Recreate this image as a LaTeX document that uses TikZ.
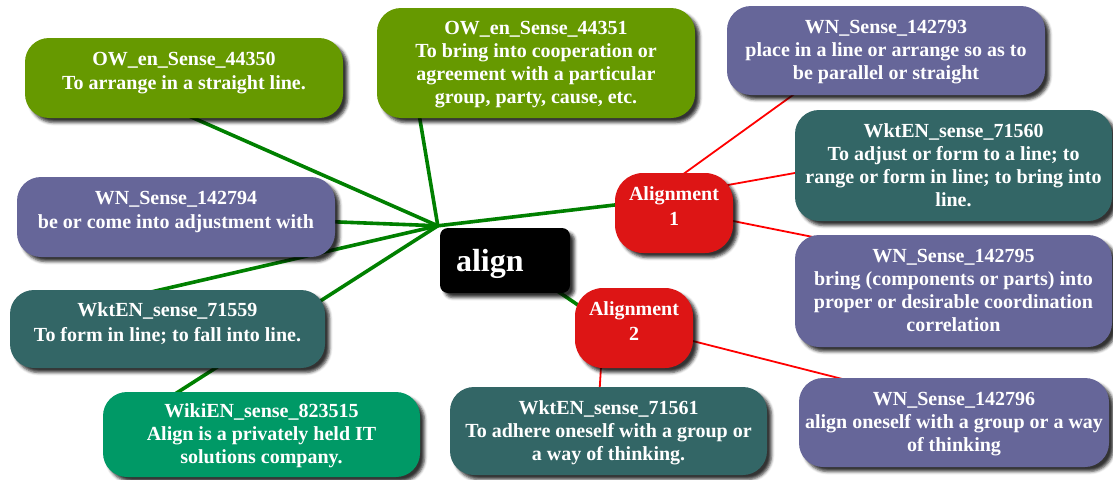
\documentclass[tikz,border=0pt]{standalone}
\usepackage{fontspec}
\setmainfont{Liberation Serif}
\usetikzlibrary{calc,shadows.blur}

\definecolor{owgreen}{HTML}{669900}
\definecolor{wnpurple}{HTML}{666699}
\definecolor{wktteal}{HTML}{336666}
\definecolor{wikigreen}{HTML}{009966}
\definecolor{alred}{HTML}{DD1515}
\definecolor{linegreen}{HTML}{008000}
\definecolor{linered}{HTML}{FF0000}

\pgfdeclarelayer{background}
\pgfsetlayers{background,main}

\tikzset{
  shadowed/.style={blur shadow={shadow xshift=4.5pt, shadow yshift=-4.5pt,
      shadow blur radius=3pt, shadow opacity=80}},
  sensebox/.style={shadowed, rounded corners=24pt, text=white, align=center,
      inner sep=0pt, text depth=1pt,
      font=\bfseries\fontsize{20}{23}\selectfont},
  % two-line boxes set their text a little higher
  twoline/.style={text depth=14.3pt, font=\bfseries\fontsize{20}{24.5}\selectfont},
  owbox/.style={sensebox, fill=owgreen},
  wnbox/.style={sensebox, fill=wnpurple},
  wktbox/.style={sensebox, fill=wktteal},
  wikibox/.style={sensebox, fill=wikigreen},
  alignbox/.style={sensebox, twoline, fill=alred, rounded corners=28pt,
      minimum width=118pt, minimum height=80pt},
  rootbox/.style={shadowed, fill=black, rounded corners=8pt, text=white,
      inner xsep=16pt, inner ysep=0pt, text width=98pt, align=left,
      text height=22pt, text depth=0pt,
      minimum height=65pt, font=\bfseries\fontsize{32}{36}\selectfont},
  greenlink/.style={draw=linegreen, line width=3.6pt},
  redlink/.style={draw=linered, line width=1.8pt},
}

\begin{document}
\begin{tikzpicture}[x=1pt, y=-1pt]
\useasboundingbox (0,0) rectangle (1113,479);

% central word
\node[rootbox] (align) at (505,260.5) {align};

% alignment groups
\node[alignbox] (a1) at (674,213) {Alignment\\1};
\node[alignbox] (a2) at (634,328) {Alignment\\2};

% senses linked straight to the word
\node[owbox, twoline, minimum width=318pt, minimum height=80pt] (n44350) at (184,78)
  {OW\_en\_Sense\_44350\\To arrange in a straight line.};
\node[owbox, minimum width=318pt, minimum height=110pt] (n44351) at (536,63)
  {OW\_en\_Sense\_44351\\To bring into cooperation or\\agreement with a particular\\group, party, cause, etc.};
\node[wnbox, twoline, minimum width=318pt, minimum height=80pt] (n142794) at (176,217)
  {WN\_Sense\_142794\\be or come into adjustment with};
\node[wktbox, twoline, minimum width=315pt, minimum height=78pt] (n71559) at (167.5,329)
  {WktEN\_sense\_71559\\To form in line; to fall into line.};
\node[wikibox, minimum width=317pt, minimum height=85pt] (n823515) at (261.5,434.5)
  {WikiEN\_sense\_823515\\Align is a privately held IT\\solutions company.};

% senses of Alignment 1
\node[wnbox, minimum width=318pt, minimum height=89pt] (n142793) at (886,50.5)
  {WN\_Sense\_142793\\place in a line or arrange so as to\\be parallel or straight};
\node[wktbox, minimum width=317pt, minimum height=111pt] (n71560) at (953.5,165.5)
  {WktEN\_sense\_71560\\To adjust or form to a line; to\\range or form in line; to bring into\\line.};
\node[wnbox, minimum width=317pt, minimum height=112pt] (n142795) at (953.5,291)
  {WN\_Sense\_142795\\bring (components or parts) into\\proper or desirable coordination\\correlation};

% senses of Alignment 2
\node[wktbox, minimum width=317pt, minimum height=88pt] (n71561) at (608.5,431)
  {WktEN\_sense\_71561\\To adhere oneself with a group or\\a way of thinking.};
\node[wnbox, minimum width=310pt, minimum height=89pt] (n142796) at (954,422.5)
  {WN\_Sense\_142796\\align oneself with a group or a way\\of thinking};

% connectors, kept behind the boxes
\begin{pgfonlayer}{background}
  \coordinate (hub) at ($(align.north west)+(-2,-2)$);
  \draw[greenlink] (hub) -- ($(n44350.center)+(-54,12)$);
  \draw[greenlink] (hub) -- ($(n44351.center)+(-121,27)$);
  \draw[greenlink] (hub) -- ($(n142794.center)+(124,3.5)$);
  \draw[greenlink] (hub) -- ($(n71559.center)+(-94.5,-19)$);
  \draw[greenlink] (hub) -- ($(n823515.center)+(-111.5,-24.5)$);
  \draw[greenlink] (hub) -- ($(a1.center)+(-34,-11)$);
  \draw[greenlink] ($(align.center)+(45,25.5)$) -- ($(a2.center)+(-34,-8)$);

  \draw[redlink] ($(a1.center)+(-10,-25)$) -- ($(n142793.center)+(-75,31.5)$);
  \draw[redlink] ($(a1.center)+(26,-23)$) -- ($(n71560.center)+(-133.5,3)$);
  \draw[redlink] ($(a1.center)+(39,4)$) -- ($(n142795.center)+(-115.5,-49)$);
  \draw[redlink] ($(a2.center)+(-32,22)$) -- ($(n71561.center)+(-9.5,-31)$);
  \draw[redlink] ($(a2.center)+(43,9)$) -- ($(n142796.center)+(-84,-36.5)$);
\end{pgfonlayer}
\end{tikzpicture}
\end{document}
